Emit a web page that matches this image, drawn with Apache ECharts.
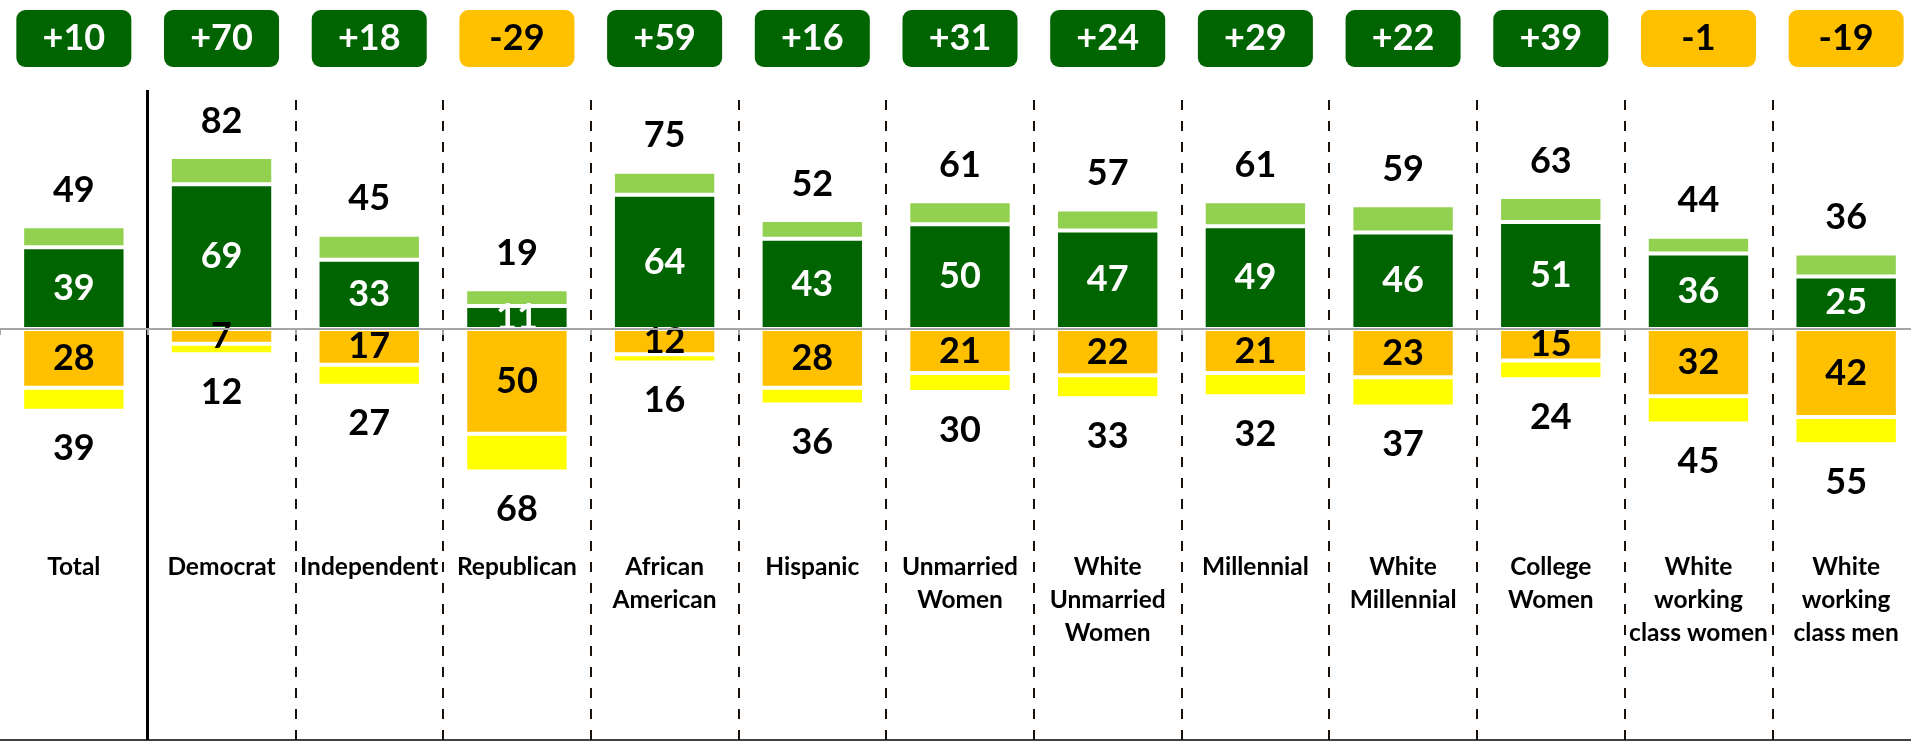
<!DOCTYPE html>
<html>
<head>
<meta charset="utf-8">
<script src="https://cdn.jsdelivr.net/npm/echarts@6/dist/echarts.min.js"></script>
<style>
  html, body { margin: 0; padding: 0; background: #fff; }
  #chart { width: 1911px; height: 743px; }
</style>
</head>
<body>
<div id="chart"></div>
<script>
// groups along the x axis
const categories = [
  'Total', 'Democrat', 'Independent', 'Republican', 'African\nAmerican', 'Hispanic',
  'Unmarried\nWomen', 'White\nUnmarried\nWomen', 'Millennial', 'White\nMillennial',
  'College\nWomen', 'White\nworking\nclass women', 'White\nworking\nclass men'
]
// net score shown in the boxes on top
const netScores = [10, 70, 18, -29, 59, 16, 31, 24, 29, 22, 39, -1, -19]
// positive side: all / strong
const posTotal = [49, 82, 45, 19, 75, 52, 61, 57, 61, 59, 63, 44, 36]
const posStrong = [39, 69, 33, 11, 64, 43, 50, 47, 49, 46, 51, 36, 25]
// negative side: all / strong
const negTotal = [39, 12, 27, 68, 16, 36, 30, 33, 32, 37, 24, 45, 55]
const negStrong = [28, 7, 17, 50, 12, 28, 21, 22, 21, 23, 15, 32, 42]

const DARK_GREEN = '#006400'
const LIGHT_GREEN = '#92D050'
const ORANGE = '#FFC000'
const YELLOW = '#FFFF00'

const chart = echarts.init(document.getElementById('chart'))

const bigLabel = { fontFamily: 'Lato', fontWeight: 'bold', fontSize: 36 }
const segStyle = { borderColor: '#fff', borderWidth: 2 }

const boxStyle = {
  width: 115,
  height: 57,
  lineHeight: 57,
  align: 'center',
  borderRadius: 9,
  fontFamily: 'Lato',
  fontWeight: 'bold',
  fontSize: 36
}

// separator positions between groups (first one is solid)
const separators = categories.slice(1).map((_, i) => i + 0.5)

const option = {
  animation: false,
  textStyle: { fontFamily: 'Lato' },
  grid: { left: 0, width: 1920, top: 90, bottom: 3, containLabel: false, outerBoundsMode: 'none' },
  xAxis: [
    {
      type: 'category',
      data: categories,
      z: 10,
      axisLine: { onZero: true, lineStyle: { color: '#A6A6A6', width: 2 } },
      axisTick: { show: true, length: 6, lineStyle: { color: '#A6A6A6', width: 2 } },
      axisLabel: {
        interval: 0,
        margin: -189,
        color: '#000',
        fontWeight: 'bold',
        fontSize: 24.5,
        lineHeight: 33
      },
      splitLine: { show: false }
    },
    {
      type: 'category',
      position: 'top',
      data: categories,
      axisLine: { show: false, onZero: false },
      axisTick: { show: false },
      axisLabel: {
        interval: 0,
        margin: 23,
        formatter: (v, i) => {
          const n = netScores[i]
          return n >= 0 ? `{up|+${n}}` : `{down|${n}}`
        },
        rich: {
          up: Object.assign({ backgroundColor: DARK_GREEN, color: '#fff' }, boxStyle),
          down: Object.assign({ backgroundColor: ORANGE, color: '#000' }, boxStyle)
        }
      }
    },
    {
      type: 'category',
      position: 'bottom',
      data: categories,
      axisLine: { onZero: false, lineStyle: { color: '#404040', width: 2 } },
      axisTick: { show: false },
      axisLabel: { show: false }
    },
    {
      type: 'value',
      min: -0.5,
      max: categories.length - 0.5,
      show: false
    }
  ],
  yAxis: {
    type: 'value',
    min: -196,
    max: 114,
    show: false
  },
  series: [
    {
      name: 'strong positive',
      type: 'bar',
      stack: 'all',
      barWidth: '70%',
      itemStyle: Object.assign({ color: DARK_GREEN }, segStyle),
      label: Object.assign({ show: true, position: 'inside', color: '#fff' }, bigLabel),
      data: posStrong
    },
    {
      name: 'other positive',
      type: 'bar',
      stack: 'all',
      itemStyle: Object.assign({ color: LIGHT_GREEN }, segStyle),
      label: Object.assign({
        show: true,
        position: 'top',
        distance: 18,
        color: '#000',
        formatter: p => posTotal[p.dataIndex]
      }, bigLabel),
      data: posTotal.map((t, i) => t - posStrong[i])
    },
    {
      name: 'strong negative',
      type: 'bar',
      stack: 'all',
      itemStyle: Object.assign({ color: ORANGE }, segStyle),
      label: Object.assign({
        show: true,
        position: 'inside',
        color: '#000',
        formatter: p => negStrong[p.dataIndex]
      }, bigLabel),
      data: negStrong.map(v => -v)
    },
    {
      name: 'other negative',
      type: 'bar',
      stack: 'all',
      itemStyle: Object.assign({ color: YELLOW }, segStyle),
      label: Object.assign({
        show: true,
        position: 'bottom',
        distance: 20,
        color: '#000',
        formatter: p => negTotal[p.dataIndex]
      }, bigLabel),
      data: negTotal.map((t, i) => -(t - negStrong[i]))
    },
    {
      // group separators
      type: 'line',
      xAxisIndex: 3,
      data: [],
      silent: true,
      markLine: {
        silent: true,
        symbol: ['none', 'none'],
        label: { show: false },
        data: separators.map((x, i) => ({
          xAxis: x,
          lineStyle: i === 0
            ? { type: 'solid', color: '#000', width: 3 }
            : { type: [10, 11], color: '#1a120a', width: 2 }
        }))
      }
    }
  ]
}

chart.setOption(option)
</script>
</body>
</html>
